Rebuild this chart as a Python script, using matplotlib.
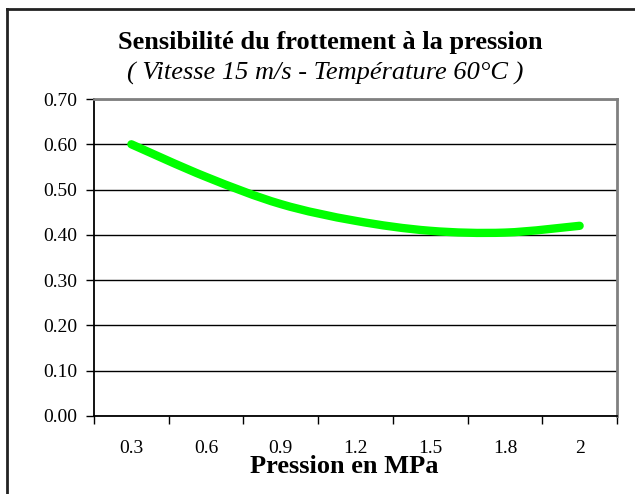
import matplotlib
matplotlib.use("Agg")
import matplotlib.pyplot as plt
from matplotlib.path import Path
from matplotlib.patches import PathPatch
from matplotlib.lines import Line2D
import numpy as np

plt.rcParams['font.family'] = ['Liberation Serif', 'DejaVu Serif']

pression = ["0.3", "0.6", "0.9", "1.2", "1.5", "1.8", "2"]
frottement = [0.60, 0.528, 0.468, 0.431, 0.409, 0.405, 0.42]
yticks = [0.0, 0.1, 0.2, 0.3, 0.4, 0.5, 0.6, 0.7]

fig = plt.figure(figsize=(6.35, 4.94), dpi=100)
ax = fig.add_axes([94/635, 1 - 416/494, (617 - 94)/635, (416 - 99)/494])

# smoothed line like Excel: bezier through the points
xs = np.arange(len(frottement))
pts = list(zip(xs, frottement))
verts = [pts[0]]
codes = [Path.MOVETO]
for i in range(len(pts) - 1):
    p0 = pts[i - 1] if i > 0 else pts[i]
    p1 = pts[i]
    p2 = pts[i + 1]
    p3 = pts[i + 2] if i + 2 < len(pts) else pts[i + 1]
    c1 = (p1[0] + (p2[0] - p0[0]) / 6, p1[1] + (p2[1] - p0[1]) / 6)
    c2 = (p2[0] - (p3[0] - p1[0]) / 6, p2[1] - (p3[1] - p1[1]) / 6)
    verts += [c1, c2, p2]
    codes += [Path.CURVE4] * 3
patch = PathPatch(Path(verts, codes), facecolor='none', edgecolor='#00ff00',
                  lw=6, capstyle='round', joinstyle='round', zorder=3)
ax.add_patch(patch)

ax.set_xlim(-0.5, len(pression) - 0.5)
ax.set_ylim(0, 0.7)
ax.set_yticks(yticks)
ax.set_yticklabels(["%.2f" % v for v in yticks])
ax.set_xticks(xs)
ax.set_xticklabels(pression)
ax.set_xticks(np.arange(-0.5, len(pression)), minor=True)
ax.tick_params(axis='x', which='major', length=0, pad=17, labelsize=14)
ax.tick_params(axis='x', which='minor', length=6, width=1, direction='out')
ax.tick_params(axis='y', length=6, width=1, direction='out', pad=6, labelsize=14)
ax.grid(axis='y', color='black', lw=1)
ax.set_axisbelow(True)

for s in ['left', 'bottom']:
    ax.spines[s].set_color('black')
    ax.spines[s].set_linewidth(1.3)
for s in ['top', 'right']:
    ax.spines[s].set_color('#808080')
    ax.spines[s].set_linewidth(2)

fig.text(330/635, 1 - 42/494, "Sensibilité du frottement à la pression",
         ha='center', va='center', fontsize=19, fontweight='bold')
fig.text(325/635, 1 - 73/494, "( Vitesse 15 m/s - Température 60°C )",
         ha='center', va='center', fontsize=19, style='italic')
fig.text(344/635, 1 - 466/494, "Pression en MPa",
         ha='center', va='center', fontsize=19, fontweight='bold')

# chart frame (cropped at right and bottom)
fig.add_artist(Line2D([7/635, 7/635], [0, 1 - 9.5/494], color='#222222', lw=2))
fig.add_artist(Line2D([7/635, 1], [1 - 9.5/494, 1 - 9.5/494], color='#222222', lw=2))

fig.savefig("out.png", dpi=100)
